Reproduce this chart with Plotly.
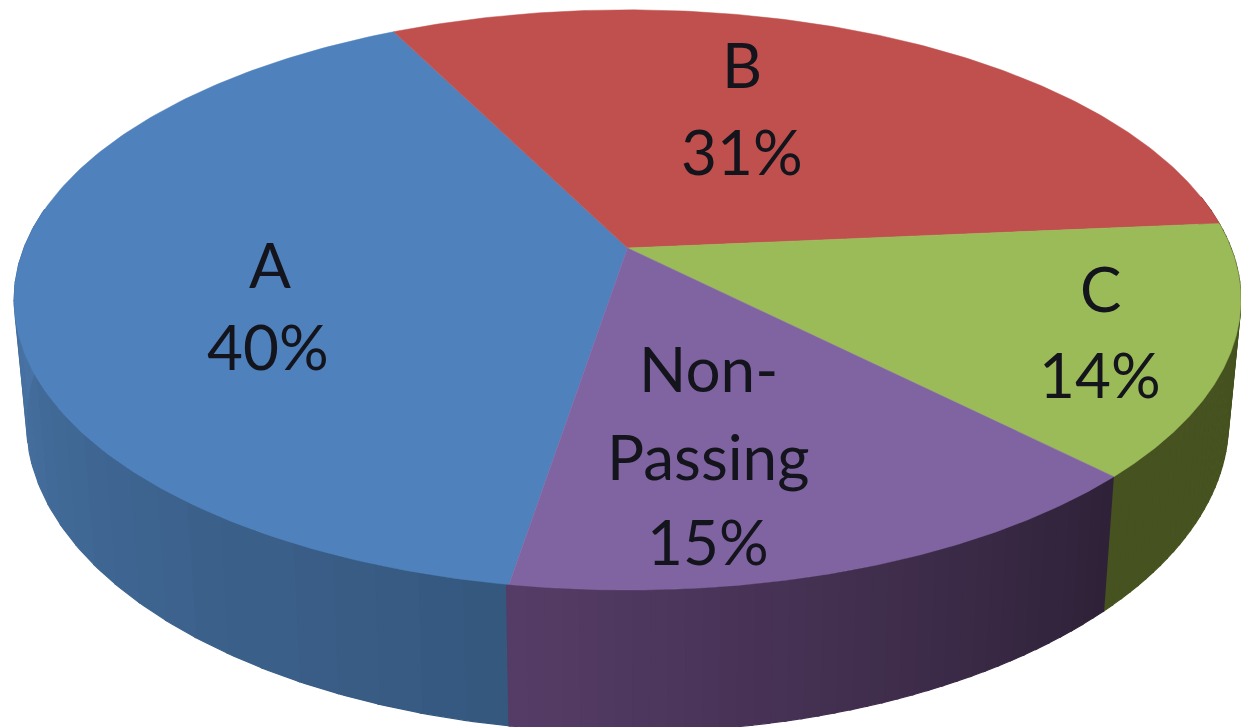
import numpy as np
import plotly.graph_objects as go

categories = ["A", "B", "C", "Non-Passing"]
values = [40, 31, 14, 15]
label_lines = [["A"], ["B"], ["C"], ["Non-", "Passing"]]

top_colors = ["#4f81bd", "#c0504d", "#9bbb59", "#8064a2"]
side_light = ["#4a76a8", "#8a3a38", "#46521f", "#553c66"]
side_dark = ["#35587f", "#8a3a38", "#46521f", "#2f2238"]

FIRST_ANGLE = 189.3
CX, CY = 627.5, 248.0
RX, RY, K = 603.5, 280.8, 0.179
LOW_X, LOW_Y, LOW_CY = 0.98, 1.07, 366.0
PAGE_MARGIN = 8
label_pos = [[(270, 264), (268, 346)], [(742, 64), (742, 151)], [(1100, 288), (1100, 374)],
             [(708, 368), (708, 456), (708, 541)]]


def top_rim(deg):
    a = np.radians(deg)
    u, v = np.sin(a), -np.cos(a)
    w = 1 - K * v
    return RX * u / w, RY * v / w


def to_hex(c):
    return "#%02x%02x%02x" % tuple(int(round(x)) for x in c)


def rgb(h):
    return np.array([int(h[i:i + 2], 16) for i in (1, 3, 5)], float)


fig = go.Figure()
shares = np.array(values) / sum(values) * 360
starts = FIRST_ANGLE + np.concatenate([[0], np.cumsum(shares)[:-1]])

# rim side, front part only, as thin shaded strips
for i, (s, d) in enumerate(zip(starts, shares)):
    angles = np.linspace(s, s + d, 40)
    vis = [x for x in angles if -np.cos(np.radians(x)) > -0.2]
    if len(vis) < 2:
        continue
    n = len(vis)
    for j in range(n - 1):
        f = j / (n - 2) if n > 2 else 0
        col = rgb(side_dark[i]) * (1 - f) + rgb(side_light[i]) * f
        t = np.linspace(vis[j], vis[j + 1] + 0.2, 6)
        x, y = top_rim(t)
        xs = np.concatenate([CX + x, (CX + LOW_X * x)[::-1]])
        ys = np.concatenate([CY + y, (LOW_CY + LOW_Y * y)[::-1]])
        fig.add_trace(go.Scatter(x=xs, y=ys, mode="lines", fill="toself", fillcolor=to_hex(col),
                                 line=dict(color=to_hex(col), width=1.2), hoverinfo="skip",
                                 showlegend=False))

# top face
for i, (s, d) in enumerate(zip(starts, shares)):
    x, y = top_rim(np.linspace(s, s + d, 180))
    fig.add_trace(go.Scatter(x=np.r_[CX, CX + x, CX], y=np.r_[CY, CY + y, CY], mode="lines",
                             fill="toself", fillcolor=top_colors[i],
                             line=dict(color=top_colors[i], width=0.5), name=categories[i],
                             hoverinfo="name", showlegend=False))

annotations = []
for i, v in enumerate(values):
    for (px, py), txt in zip(label_pos[i], label_lines[i] + [f"{v}%"]):
        annotations.append(dict(x=px, y=py, text=txt, showarrow=False, xref="x", yref="y",
                                font=dict(family="Lato, Open Sans, sans-serif", size=62, color="#14141c")))

fig.update_layout(
    width=1249 - PAGE_MARGIN, height=727 - PAGE_MARGIN, margin=dict(l=0, r=0, t=0, b=0),
    paper_bgcolor="white", plot_bgcolor="white", annotations=annotations,
    xaxis=dict(range=[PAGE_MARGIN, 1249], visible=False, fixedrange=True),
    yaxis=dict(range=[727, PAGE_MARGIN], visible=False, fixedrange=True),
)
fig.write_html("out.html")
